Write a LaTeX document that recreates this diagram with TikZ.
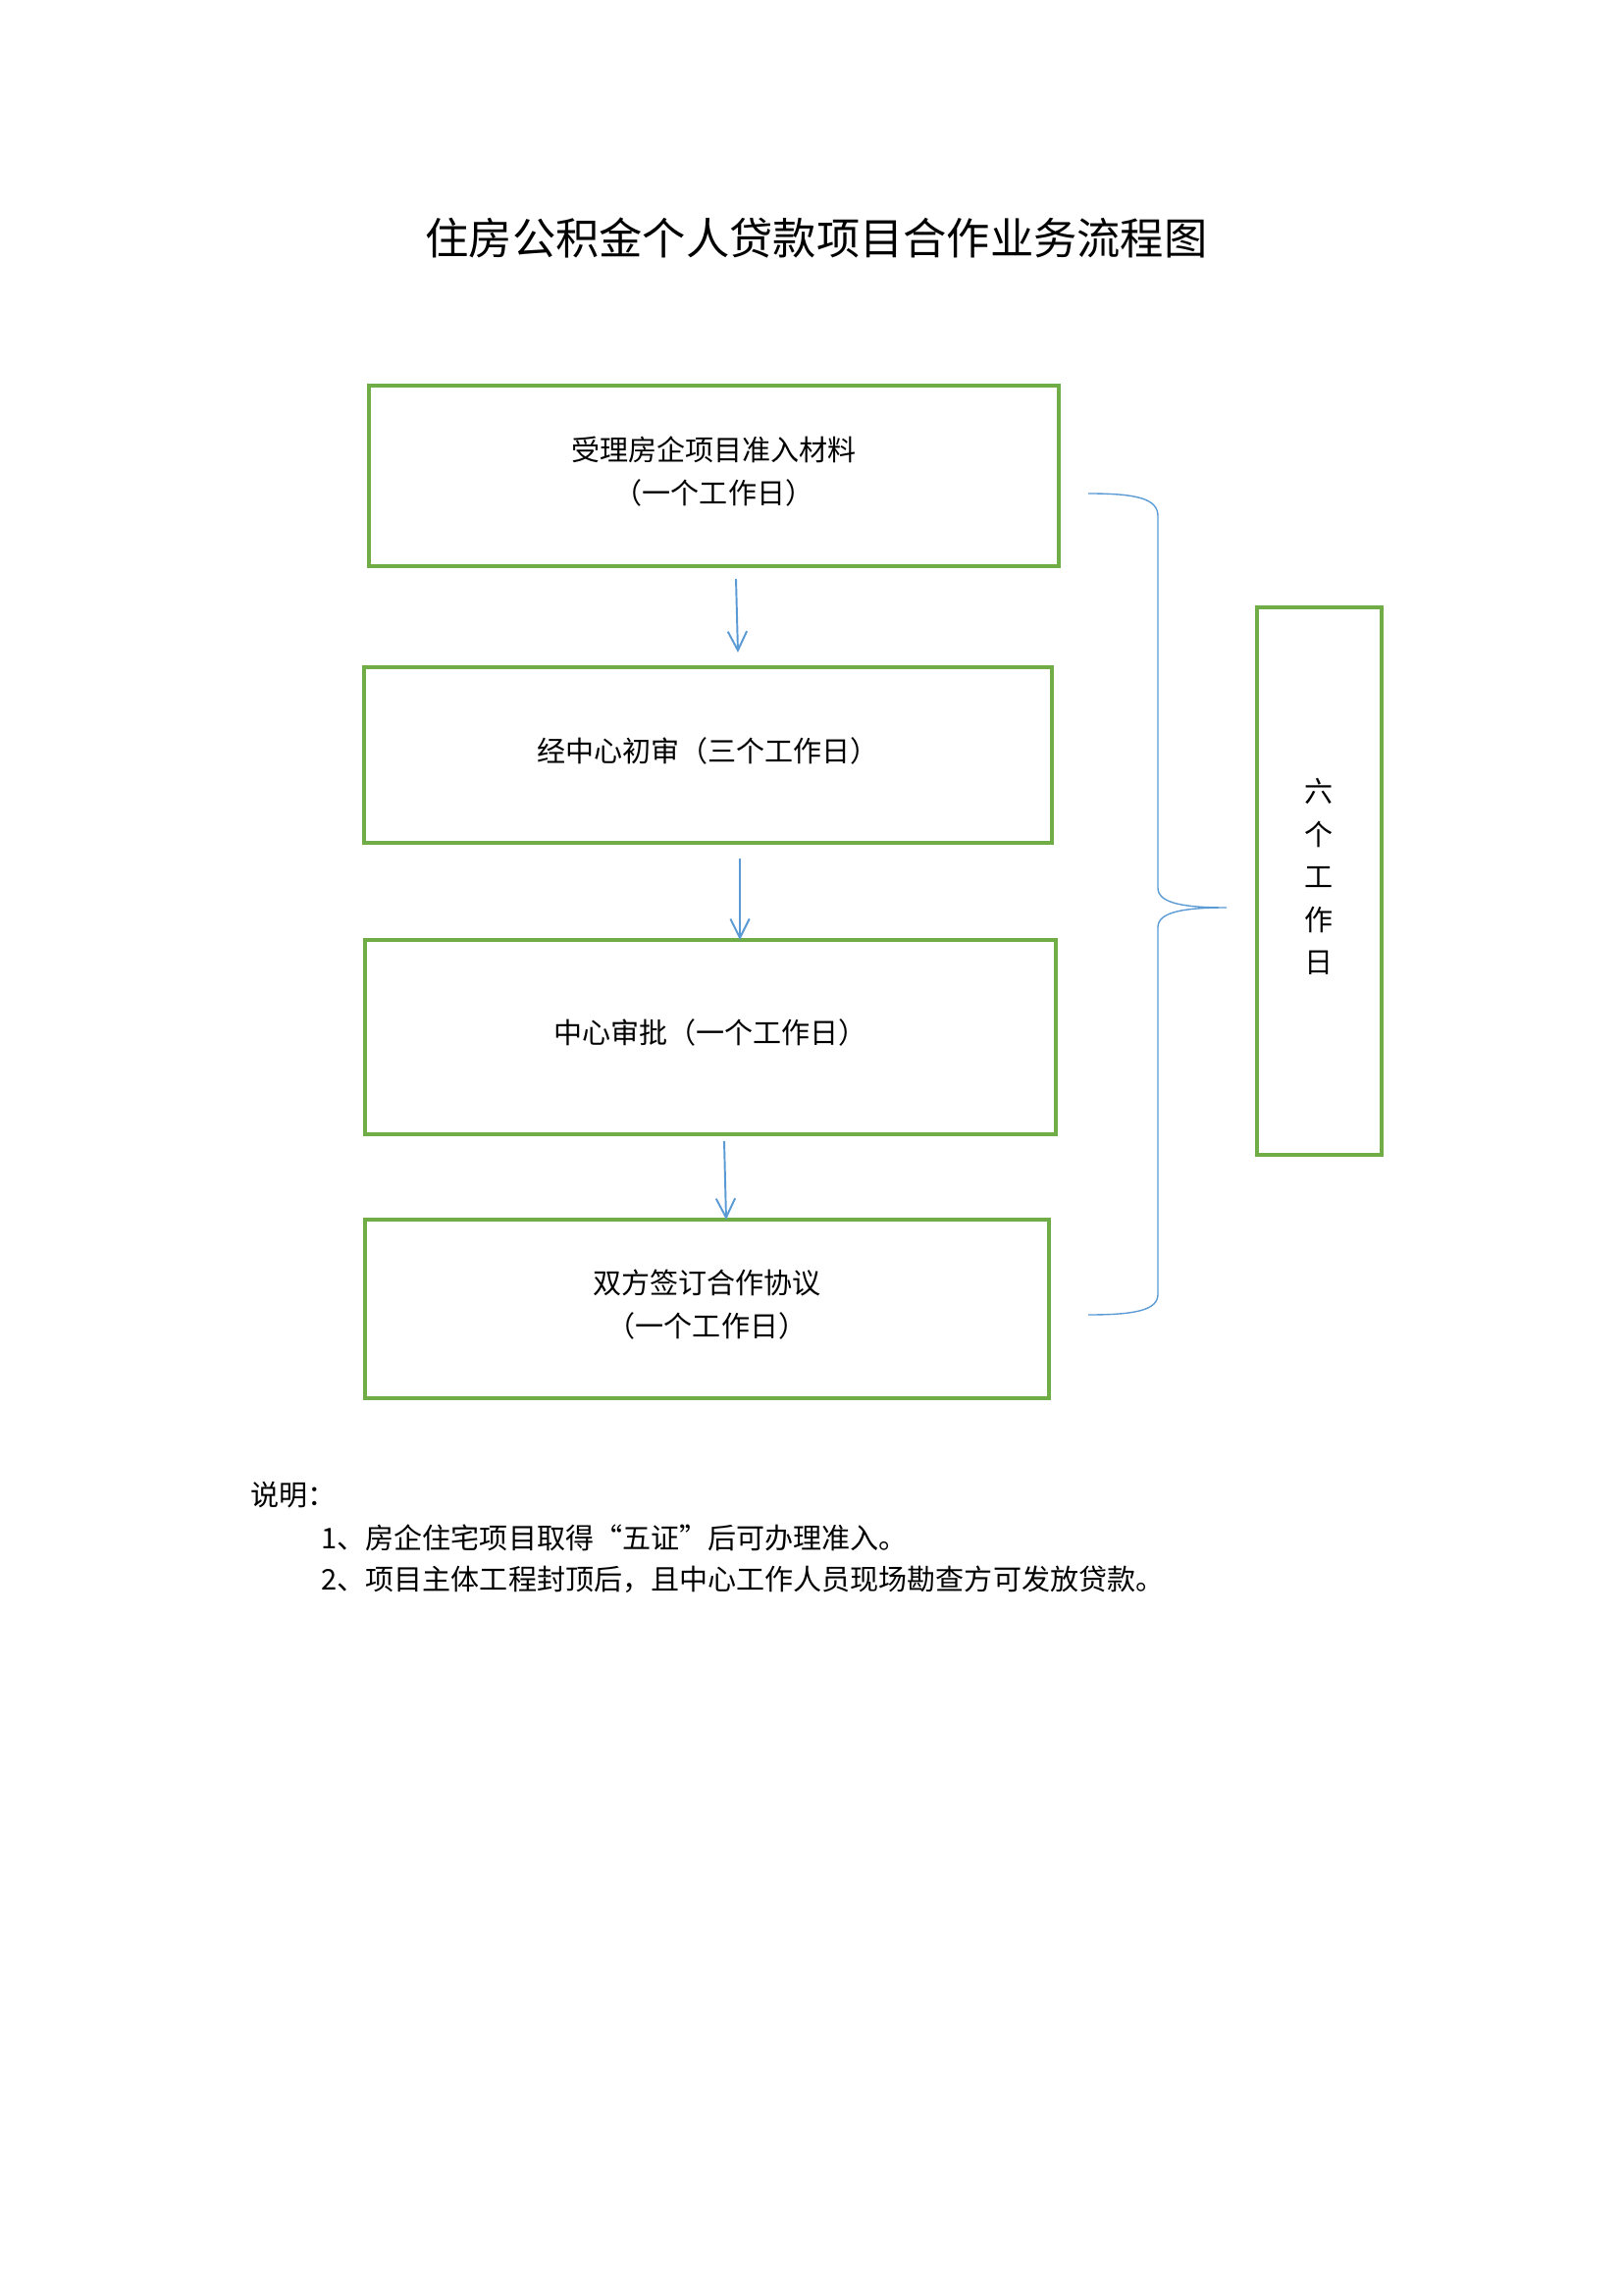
\documentclass[tikz,border=0pt]{standalone}
\usepackage{fontspec}
\setmainfont{Noto Sans CJK SC}
\usetikzlibrary{arrows.meta}
\definecolor{boxgreen}{RGB}{112,173,71}
\definecolor{arrblue}{RGB}{91,155,213}
\newcommand\pxu{0.127mm}
\begin{document}
\begin{tikzpicture}[x=0.127mm,y=-0.127mm,
  stepbox/.style={draw=boxgreen,line width=1.3pt,rectangle,inner sep=0pt},
  boxtext/.style={align=center,inner sep=0pt,font=\fontsize{10.5}{16.2}\selectfont},
  flowarrow/.style={draw=arrblue,line width=0.7pt,-{Straight Barb[length=7pt,width=7pt]}},
  bracepath/.style={draw=arrblue,line width=0.5pt},
  notetext/.style={anchor=west,inner sep=0pt,font=\fontsize{10.5}{15.5}\selectfont}]
\useasboundingbox[fill=white] (0,0) rectangle (1654,2339);

\node[inner sep=0pt,font=\fontsize{16}{20}\selectfont] (title) at (832,243) {住房公积金个人贷款项目合作业务流程图};

\node[stepbox,minimum width=703*\pxu,minimum height=184*\pxu] (b1) at (727.5,485) {};
\node[stepbox,minimum width=701*\pxu,minimum height=179*\pxu] (b2) at (721.5,769.5) {};
\node[stepbox,minimum width=704*\pxu,minimum height=198*\pxu] (b3) at (724,1057) {};
\node[stepbox,minimum width=697*\pxu,minimum height=182*\pxu] (b4) at (720.5,1334) {};
\node[stepbox,minimum width=127*\pxu,minimum height=558*\pxu] (six) at (1344.5,898) {};

\node[boxtext] (t1) at ([yshift=1.6pt]b1.center) {受理房企项目准入材料\\（一个工作日）};
\node[boxtext] (t2) at ([yshift=1.6pt]b2.center) {经中心初审（三个工作日）};
\node[boxtext] (t3) at ([yshift=1.6pt]b3.center) {中心审批（一个工作日）};
\node[boxtext] (t4) at ([yshift=1.6pt]b4.center) {双方签订合作协议\\（一个工作日）};
\node[boxtext,font=\fontsize{10.5}{15.7}\selectfont] (t5) at ([yshift=1.6pt]six.center) {六\\个\\工\\作\\日};

\coordinate (a1s) at (750,590);
\coordinate (a1e) at (752,665);
\coordinate (a2s) at (754,875);
\coordinate (a2e) at (754,958);
\coordinate (a3s) at (738,1163);
\coordinate (a3e) at (740,1243);
\draw[flowarrow] (a1s) -- (a1e);
\draw[flowarrow] (a2s) -- (a2e);
\draw[flowarrow] (a3s) -- (a3e);

% brace
\coordinate (brt) at (1109,503);
\coordinate (brm) at (1250,925);
\coordinate (brb) at (1109,1340);
\draw[bracepath] (brt) .. controls (1158,503) and (1180,508) .. (1180,526)
  -- (1180,905) .. controls (1180,921) and (1208,925) .. (brm)
  .. controls (1208,925) and (1180,929) .. (1180,945)
  -- (1180,1319) .. controls (1180,1335) and (1158,1340) .. (brb);

\node[notetext] (n0) at (255,1524) {说明：};
\node[notetext] (n1) at (327,1567) {1、房企住宅项目取得“五证”后可办理准入。};
\node[notetext] (n2) at (327,1610) {2、项目主体工程封顶后，且中心工作人员现场勘查方可发放贷款。};
\end{tikzpicture}
\end{document}
